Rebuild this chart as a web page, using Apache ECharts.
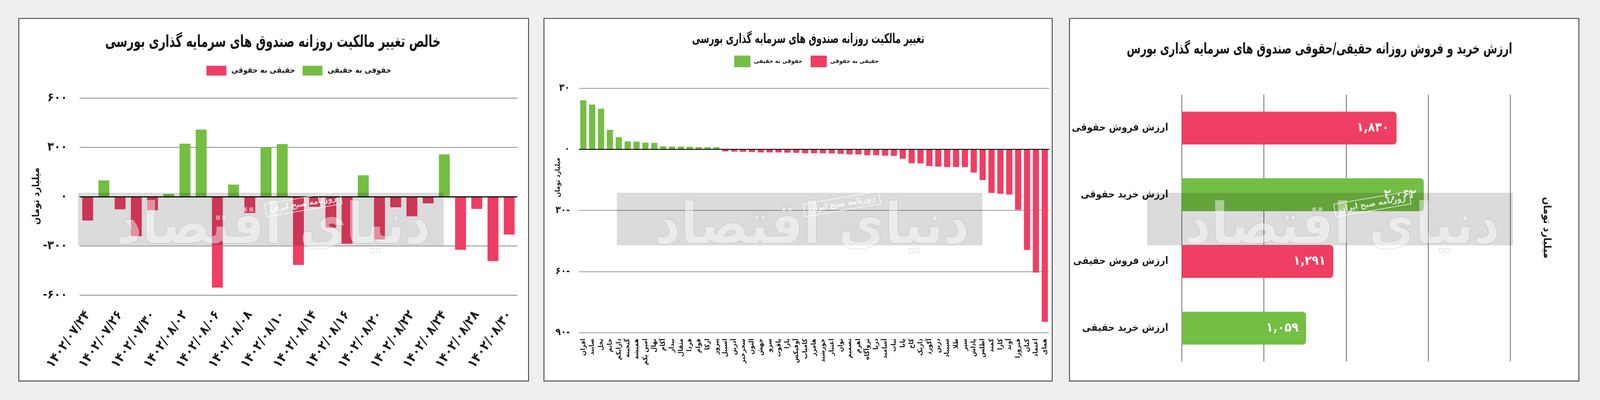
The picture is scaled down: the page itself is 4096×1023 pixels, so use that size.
<!DOCTYPE html>
<html><head><meta charset="utf-8">
<script src="https://cdn.jsdelivr.net/npm/echarts@6/dist/echarts.min.js"></script>
<style>html,body{margin:0;padding:0;background:#efefef;overflow:hidden}#c{width:4096px;height:1023px}</style>
</head><body><div id="c"></div>
<script>
const S = 0.961;
const p = v => v * S;
const FONT = '"DejaVu Sans Condensed","DejaVu Sans",sans-serif';
const GREEN = '#74be44', RED = '#ef3e63', INK = '#1e1e1e';

// ---------- data ----------
const leftDates = ['۱۴۰۲/۰۷/۲۴','۱۴۰۲/۰۷/۲۵','۱۴۰۲/۰۷/۲۶','۱۴۰۲/۰۷/۲۹','۱۴۰۲/۰۷/۳۰','۱۴۰۲/۰۸/۰۱','۱۴۰۲/۰۸/۰۲','۱۴۰۲/۰۸/۰۳','۱۴۰۲/۰۸/۰۶','۱۴۰۲/۰۸/۰۷','۱۴۰۲/۰۸/۰۸','۱۴۰۲/۰۸/۰۹','۱۴۰۲/۰۸/۱۰','۱۴۰۲/۰۸/۱۳','۱۴۰۲/۰۸/۱۴','۱۴۰۲/۰۸/۱۵','۱۴۰۲/۰۸/۱۶','۱۴۰۲/۰۸/۱۷','۱۴۰۲/۰۸/۲۰','۱۴۰۲/۰۸/۲۱','۱۴۰۲/۰۸/۲۲','۱۴۰۲/۰۸/۲۳','۱۴۰۲/۰۸/۲۴','۱۴۰۲/۰۸/۲۷','۱۴۰۲/۰۸/۲۸','۱۴۰۲/۰۸/۲۹','۱۴۰۲/۰۸/۳۰'];
const leftValues = [-146, 99, -77, -241, -83, 16, 322, 408, -554, 73, -100, 301, 320, -416, -62, -189, -287, 130, -261, -65, -120, -41, 257, -324, -75, -393, -231];
const leftTickLabels = ['-۶۰۰','-۳۰۰','۰','۳۰۰','۶۰۰'];

const midTickers = ['افران','صایند','نخل','خاتم','دارایکم','گنجینه','همیشه','امین یکم','نهال','آکام','بیدار','مثقال','فردا','قوام','ارکا','پیروز','اسپیل','آذرین','سحرخیز','التون','جهش','سرو','یاقوت','یارا','آوفیکس','کامیاب','هامرز','خورشید','اعتبار','توان','تصمیم','اهرم','ثروآگاه','دریا','آسامید','ثبات','پایا','کاج','داریک','آکورد','درین','سپیناد','طلا','سپر','پاداش','اطلس','کمند','کارا','آوند','فیروزا','کیان','اعتماد','همای'];
const midValues = [24.1, 22.0, 20.0, 9.6, 6.0, 3.9, 3.8, 3.3, 3.2, 1.5, 1.4, 1.4, 1.3, 1.1, 1.1, 1.1,
  -1.0, -1.1, -1.2, -1.3, -1.5, -1.5, -1.5, -1.6, -1.7, -1.9, -1.9, -1.9, -2.0, -2.2, -2.5, -2.5, -2.9, -2.9, -3.1, -3.2,
  -4.6, -6.8, -6.9, -8.2, -8.5, -8.7, -8.7, -8.7, -11.4, -15.1, -21.4, -21.8, -22.2, -29.7, -49.4, -60.5, -84.7];
const midTickLabels = ['۹۰-','۶۰-','۳۰-','۰','۳۰'];

const rightCats = ['ارزش فروش حقوقی','ارزش خرید حقوقی','ارزش فروش حقیقی','ارزش خرید حقیقی'];
const rightValues = [1830, 2062, 1291, 1059];
const rightKinds = ['sell','buy','sell','buy'];

const NAME_G = 'حقوقی به حقیقی', NAME_R = 'حقیقی به حقوقی';
const AXIS_NAME = 'میلیارد تومان';
const TITLES = ['خالص تغییر مالکیت روزانه صندوق های سرمایه گذاری بورسی',
  'تغییر مالکیت روزانه صندوق های سرمایه گذاری بورسی',
  'ارزش خرید و فروش روزانه حقیقی/حقوقی صندوق های سرمایه گذاری بورس'];

const FA = '۰۱۲۳۴۵۶۷۸۹';
const fa = s => String(s).replace(/\d/g, d => FA[+d]);

// ---------- decoration ----------
const panels = [[50,49,1358,965],[1449,49,1354,965],[2849,49,1357,965]];
const graphics = [];
panels.forEach(([x,y,w,h]) => {
  graphics.push({type:'rect', z:-20, silent:true, shape:{x:p(x),y:p(y),width:p(w),height:p(h)},
    style:{fill:'#ffffff', stroke:'#4a4a4a', lineWidth:p(2.5)}});
});
const centered = {align:'center', verticalAlign:'middle', textAlign:'center', textVerticalAlign:'middle'};
// titles (condensed look via horizontal scale)
[[727,113,44,0.75],[2153,105,36,0.71],[3515,132,40,0.745]].forEach(([x,y,fs,k],i) => {
  graphics.push({type:'text', z:5, silent:true, x:p(x), y:p(y), scaleX:k,
    style:Object.assign({text:TITLES[i], fontSize:p(fs), fontWeight:'bold', fontFamily:FONT, fill:'#151515'}, centered)});
});
// watermark
[[208,513],[1643,513],[3056,513]].forEach(([bx,by]) => {
  graphics.push({type:'rect', z:60, silent:true, shape:{x:p(bx),y:p(by),width:p(974),height:p(140)},
    style:{fill:'rgba(0,0,0,0.14)'}});
  graphics.push({type:'text', z:61, silent:true, x:p(bx+520), y:p(by+95),
    style:Object.assign({text:'دنیای اقتصاد', fontSize:p(150), fontWeight:'bold', fontFamily:FONT,
      fill:'rgba(255,255,255,0.45)', stroke:'rgba(150,150,150,0.3)', lineWidth:p(2)}, centered)});
  graphics.push({type:'text', z:62, silent:true, x:p(bx+600), y:p(by+30), rotation:0.17,
    style:Object.assign({text:'روزنامه صبح ایران', fontSize:p(22), fontWeight:'bold', fontFamily:FONT,
      fill:'rgba(255,255,255,0.8)', borderColor:'rgba(255,255,255,0.8)', borderWidth:p(2), padding:[p(6),p(12)]}, centered)});
});
// axis names
[[97,522,Math.PI/2,26],[1487,472,Math.PI/2,18],[4120,606,-Math.PI/2,28]].forEach(([x,y,r,fs]) => {
  graphics.push({type:'text', z:5, silent:true, x:p(x), y:p(y), rotation:r,
    style:Object.assign({text:AXIS_NAME, fontSize:p(fs), fontWeight:'bold', fontFamily:FONT, fill:INK}, centered)});
});

const zeroLine = w => ({silent:true, symbol:'none', animation:false, label:{show:false},
  lineStyle:{color:'#111', width:p(w), type:'solid'}, data:[{yAxis:0}]});

const txt = (fs, extra) => Object.assign({fontSize:p(fs), fontWeight:'bold', fontFamily:FONT, color:INK}, extra||{});

const option = {
  backgroundColor:'#efefef',
  animation:false,
  legend:[
    {left:p(550), top:p(175), padding:0, icon:'rect', itemWidth:p(53), itemHeight:p(26), itemGap:p(20),
     data:[NAME_R, NAME_G], selectedMode:false, textStyle:txt(21, {padding:[p(6),0,0,p(8)]})},
    {left:p(1956), top:p(148), padding:0, icon:'rect', itemWidth:p(43), itemHeight:p(31), itemGap:p(22),
     data:[NAME_G, NAME_R], selectedMode:false, textStyle:txt(16, {padding:[p(32),0,0,p(4)]})}
  ],
  grid:[
    {left:p(212), top:p(261), width:p(1166), height:p(524.4)},
    {left:p(1542), top:p(235), width:p(1253), height:p(650)},
    {left:p(3148), top:p(252), width:p(875.5), height:p(710)}
  ],
  xAxis:[
    {type:'category', gridIndex:0, data:leftDates, axisLine:{show:false, onZero:false}, axisTick:{show:false},
     axisLabel:{interval:1, rotate:55, margin:p(46), ...txt(35)}},
    {type:'category', gridIndex:1, data:midTickers, axisLine:{show:false, onZero:false}, axisTick:{show:false},
     axisLabel:{interval:0, rotate:90, margin:p(16), ...txt(18)}},
    {type:'value', gridIndex:2, min:0, max:2800, interval:700, axisLine:{show:false}, axisTick:{show:false},
     axisLabel:{show:false}, splitLine:{show:true, lineStyle:{color:'#333', width:p(1.5)}}}
  ],
  yAxis:[
    {type:'value', gridIndex:0, min:-600, max:600, interval:300, axisLine:{show:false}, axisTick:{show:false},
     splitLine:{lineStyle:{color:'#8a8a8a', width:p(2)}},
     axisLabel:{margin:p(33), formatter:(v,i)=>leftTickLabels[i], ...txt(32)}},
    {type:'value', gridIndex:1, min:-90, max:30, interval:30, axisLine:{show:false}, axisTick:{show:false},
     splitLine:{lineStyle:{color:'#9a9a9a', width:p(2)}},
     axisLabel:{margin:p(24), formatter:(v,i)=>midTickLabels[i], ...txt(26)}},
    {type:'category', gridIndex:2, data:rightCats, inverse:true, axisLine:{show:false}, axisTick:{show:false},
     axisLabel:{margin:p(36), ...txt(27)}}
  ],
  series:[
    {name:NAME_G, type:'bar', xAxisIndex:0, yAxisIndex:0, barWidth:p(29), barGap:'-100%',
     itemStyle:{color:GREEN}, data:leftValues.map(v=>v>0?v:'-'), markLine:zeroLine(3)},
    {name:NAME_R, type:'bar', xAxisIndex:0, yAxisIndex:0, barWidth:p(29), barGap:'-100%',
     itemStyle:{color:RED}, data:leftValues.map(v=>v<0?v:'-')},
    {name:NAME_G, type:'bar', xAxisIndex:1, yAxisIndex:1, barWidth:p(16.5), barGap:'-100%',
     itemStyle:{color:GREEN}, data:midValues.map(v=>v>0?v:'-'), markLine:zeroLine(2.5)},
    {name:NAME_R, type:'bar', xAxisIndex:1, yAxisIndex:1, barWidth:p(16.5), barGap:'-100%',
     itemStyle:{color:RED}, data:midValues.map(v=>v<0?v:'-')},
    {name:'ارزش', type:'bar', xAxisIndex:2, yAxisIndex:2, barWidth:p(87.5),
     data:rightValues.map((v,i)=>({value:v, itemStyle:{color: rightKinds[i]==='buy'?GREEN:RED, borderRadius:[0,p(9),p(9),0]}})),
     label:{show:true, position:'insideRight', distance:p(20), formatter:d=>fa(d.value.toLocaleString('en-US')), ...txt(34, {color:'#fff'})}}
  ],
  graphic:{elements:graphics}
};
const chart = echarts.init(document.getElementById('c'), null, {renderer:'canvas'});
chart.setOption(option);
</script></body></html>
